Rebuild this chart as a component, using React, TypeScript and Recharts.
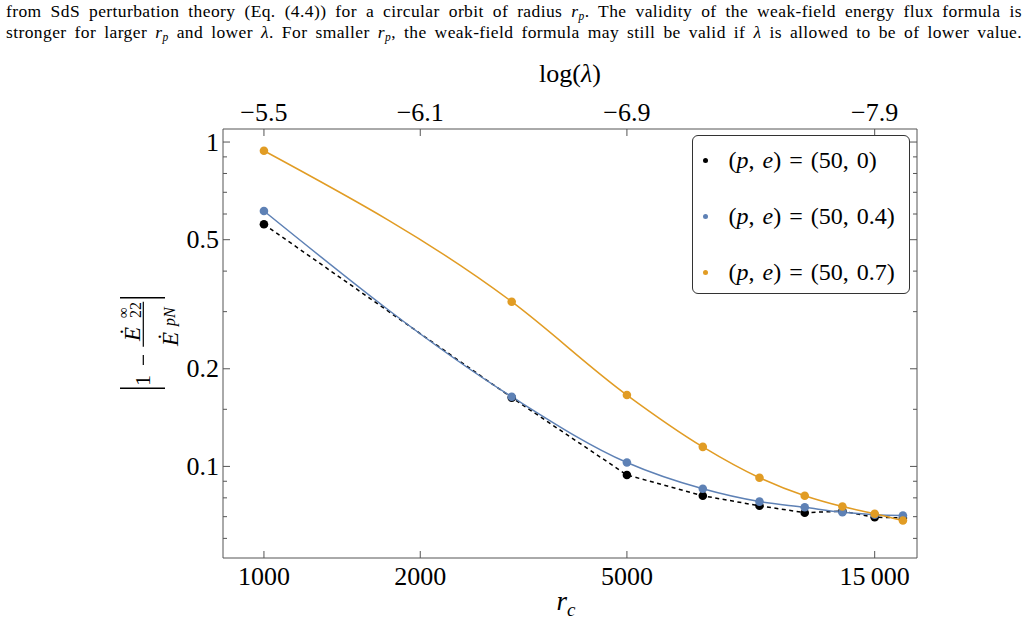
import {
  LineChart,
  Line,
  XAxis,
  YAxis,
  Legend,
} from "recharts";

// r_c sample points
const rc = [1000, 3000, 5000, 7000, 9000, 11000, 13000, 15000, 17000];

// |1 - E22 / EpN| for each orbit
const fluxE0 = [0.558, 0.163, 0.0941, 0.0812, 0.0756, 0.072, 0.0728, 0.0697, 0.0694];
const fluxE04 = [0.613, 0.164, 0.1028, 0.0853, 0.0779, 0.0748, 0.0722, 0.071, 0.0706];
const fluxE07 = [0.94, 0.322, 0.166, 0.1149, 0.0923, 0.0812, 0.0752, 0.0715, 0.0681];

const eccentricities = [0, 0.4, 0.7];

const xTicks = [1000, 2000, 5000, 15000];
const xTickLabels = ["1000", "2000", "5000", "15\u2009000"];
const topTickLabels = ["\u22125.5", "\u22126.1", "\u22126.9", "\u22127.9"];

const yTicks = [0.06, 0.07, 0.08, 0.09, 0.1, 0.15, 0.2, 0.3, 0.4, 0.5, 0.6, 0.7, 0.8, 0.9, 1];
const yMajor = [0.1, 0.2, 0.5, 1];
const yMajorLabels = ["0.1", "0.2", "0.5", "1"];

const data = rc.map((r, i) => ({
  rc: r,
  e0: fluxE0[i],
  e04: fluxE04[i],
  e07: fluxE07[i],
}));

const FONT = '"Liberation Serif", "Times New Roman", serif';
const FRAME = "#555";
const TICK_FONT = 26;

const BottomTick = (props: any) => {
  const { x, y, payload } = props;
  const i = xTicks.indexOf(payload.value);
  return (
    <g>
      <line x1={x} x2={x} y1={y} y2={y - 7} stroke={FRAME} />
      <text x={x} y={y + 27} textAnchor="middle" fontFamily={FONT} fontSize={TICK_FONT} fill="#000">
        {xTickLabels[i]}
      </text>
    </g>
  );
};

const TopTick = (props: any) => {
  const { x, y, payload } = props;
  const i = xTicks.indexOf(payload.value);
  return (
    <g>
      <line x1={x} x2={x} y1={y} y2={y + 7} stroke={FRAME} />
      <text x={x} y={y - 8} textAnchor="middle" fontFamily={FONT} fontSize={TICK_FONT} fill="#000">
        {topTickLabels[i]}
      </text>
    </g>
  );
};

const LeftTick = (props: any) => {
  const { x, y, payload } = props;
  const i = yMajor.indexOf(payload.value);
  const major = i >= 0;
  return (
    <g>
      <line x1={x} x2={x + (major ? 7 : 4)} y1={y} y2={y} stroke={FRAME} />
      {major && (
        <text x={x - 4} y={y + 8.5} textAnchor="end" fontFamily={FONT} fontSize={TICK_FONT} fill="#000">
          {yMajorLabels[i]}
        </text>
      )}
    </g>
  );
};

const RightTick = (props: any) => {
  const { x, y, payload } = props;
  const major = yMajor.indexOf(payload.value) >= 0;
  return <line x1={x} x2={x - (major ? 7 : 4)} y1={y} y2={y} stroke={FRAME} />;
};

// italic p and e in the legend names
const renderName = (name: string) =>
  name.split(/([pe])/).map((part, i) =>
    part === "p" || part === "e" ? <i key={i}>{part}</i> : <span key={i}>{part}</span>
  );

const LegendBox = (props: any) => {
  const { payload } = props;
  return (
    <div
      style={{
        position: "relative",
        width: 218,
        height: 159,
        boxSizing: "border-box",
        border: "1.3px solid #333",
        borderRadius: 6,
        background: "#fff",
        fontFamily: FONT,
        fontSize: 24,
      }}
    >
      {(payload || []).map((entry: any, i: number) => (
        <div
          key={i}
          style={{
            position: "absolute",
            left: 0,
            top: 24 + i * 56 - 20,
            height: 40,
            display: "flex",
            alignItems: "center",
            whiteSpace: "nowrap",
          }}
        >
          <span
            style={{
              display: "inline-block",
              width: 5,
              height: 5,
              borderRadius: "50%",
              background: entry.color,
              marginLeft: 9.5,
              marginRight: 21,
            }}
          />
          <span style={{ wordSpacing: 2 }}>{renderName(entry.value)}</span>
        </div>
      ))}
    </div>
  );
};

// subscript that does not grow the line box
const Sub = ({ children }: { children: any }) => (
  <span style={{ fontSize: 11.5, position: "relative", top: 3, lineHeight: 0 }}>
    <i>{children}</i>
  </span>
);

const captionLine = {
  position: "absolute" as const,
  left: 0,
  width: 1016,
  height: 20,
  textAlign: "justify" as const,
  textAlignLast: "justify" as const,
  whiteSpace: "nowrap" as const,
};

export default function App() {
  const names = eccentricities.map((e) => `(p, e) = (50, ${e})`);
  return (
    <div
      style={{
        position: "absolute",
        left: 0,
        top: 0,
        width: 1028,
        height: 622,
        background: "#fff",
        overflow: "hidden",
        fontFamily: FONT,
      }}
    >
      <div
        style={{
          position: "absolute",
          left: 6,
          top: 1,
          width: 1016,
          height: 44,
          fontSize: 17.5,
          letterSpacing: 0.4,
          lineHeight: "20px",
          color: "#000",
        }}
      >
        <div style={{ ...captionLine, top: 0, whiteSpace: "normal" }}>
          from SdS perturbation theory (Eq. (4.4)) for a circular orbit of radius <i>r</i>
          <Sub>p</Sub>. The validity of the weak-field energy flux formula is
        </div>
        <div style={{ ...captionLine, top: 21, whiteSpace: "normal" }}>
          stronger for larger <i>r</i>
          <Sub>p</Sub> and lower <i>λ</i>. For smaller <i>r</i>
          <Sub>p</Sub>, the weak-field formula may still be valid if <i>λ</i> is allowed to be of lower value.
        </div>
      </div>

      <div style={{ position: "absolute", left: 0, top: 0 }}>
        <LineChart width={1028} height={622} data={data} margin={{ top: 99, left: 163, right: 101, bottom: 34 }}>
          <XAxis
            xAxisId="bottom"
            dataKey="rc"
            type="number"
            scale="log"
            domain={[834, 18096]}
            allowDataOverflow
            ticks={xTicks}
            tick={<BottomTick />}
            tickSize={0}
            tickMargin={0}
            tickLine={false}
            height={30}
            axisLine={{ stroke: FRAME }}
            interval={0}
          />
          <XAxis
            xAxisId="top"
            orientation="top"
            dataKey="rc"
            type="number"
            scale="log"
            domain={[834, 18096]}
            allowDataOverflow
            ticks={xTicks}
            tick={<TopTick />}
            tickSize={0}
            tickMargin={0}
            tickLine={false}
            height={30}
            axisLine={{ stroke: FRAME }}
            interval={0}
          />
          <YAxis
            yAxisId="left"
            type="number"
            scale="log"
            domain={[0.0522, 1.097]}
            allowDataOverflow
            ticks={yTicks}
            tick={<LeftTick />}
            tickSize={0}
            tickMargin={0}
            tickLine={false}
            width={60}
            axisLine={{ stroke: FRAME }}
            interval={0}
          />
          <YAxis
            yAxisId="right"
            orientation="right"
            type="number"
            scale="log"
            domain={[0.0522, 1.097]}
            allowDataOverflow
            ticks={yTicks}
            tick={<RightTick />}
            tickSize={0}
            tickMargin={0}
            tickLine={false}
            width={10}
            axisLine={{ stroke: FRAME }}
            interval={0}
          />
          <Legend
            layout="horizontal"
            verticalAlign="middle"
            align="center"
            content={<LegendBox />}
            wrapperStyle={{ left: 692, top: 135, width: 218, height: 159 }}
          />
          <Line
            xAxisId="bottom"
            yAxisId="left"
            dataKey="e0"
            name={names[0]}
            type="linear"
            stroke="#000"
            strokeWidth={1.5}
            strokeDasharray="4 3.5"
            dot={{ r: 4.3, fill: "#000", stroke: "none", strokeDasharray: "" }}
            activeDot={false}
            isAnimationActive={false}
          />
          <Line
            xAxisId="bottom"
            yAxisId="left"
            dataKey="e04"
            name={names[1]}
            type="monotone"
            stroke="#5E81B5"
            strokeWidth={1.5}
            dot={{ r: 4.3, fill: "#5E81B5", stroke: "none" }}
            activeDot={false}
            isAnimationActive={false}
          />
          <Line
            xAxisId="bottom"
            yAxisId="left"
            dataKey="e07"
            name={names[2]}
            type="monotone"
            stroke="#E19C24"
            strokeWidth={1.5}
            dot={{ r: 4.3, fill: "#E19C24", stroke: "none" }}
            activeDot={false}
            isAnimationActive={false}
          />
        </LineChart>
      </div>

      {/* axis titles */}
      <svg
        width={1028}
        height={622}
        style={{ position: "absolute", left: 0, top: 0, pointerEvents: "none" }}
        fontFamily={FONT}
      >
        <text x={570} y={82} textAnchor="middle" fontSize={26}>
          log(<tspan fontStyle="italic">λ</tspan>)
        </text>
        <text x={566} y={610} textAnchor="middle" fontSize={27}>
          <tspan fontStyle="italic">r</tspan>
          <tspan fontStyle="italic" fontSize={19} dy={6}>c</tspan>
        </text>
        <g transform="translate(150, 343) rotate(-90)">
          <line x1={-45.3} x2={-45.3} y1={-30} y2={15} stroke="#000" strokeWidth={1.5} />
          <text x={-43} y={0} fontSize={22}>1</text>
          <line x1={-22} x2={-12} y1={-6.7} y2={-6.7} stroke="#000" strokeWidth={1.2} />
          <line x1={-3.7} x2={41.3} y1={-6.7} y2={-6.7} stroke="#000" strokeWidth={1.2} />
          <text x={2} y={-10} fontSize={23} fontStyle="italic">Ė</text>
          <text x={25} y={-22} fontSize={15}>∞</text>
          <text x={25} y={-9} fontSize={16}>22</text>
          <text x={-3} y={28} fontSize={23} fontStyle="italic">Ė</text>
          <text x={17} y={25} fontSize={16} fontStyle="italic">pN</text>
          <line x1={45.3} x2={45.3} y1={-30} y2={15} stroke="#000" strokeWidth={1.5} />
        </g>
      </svg>
    </div>
  );
}
